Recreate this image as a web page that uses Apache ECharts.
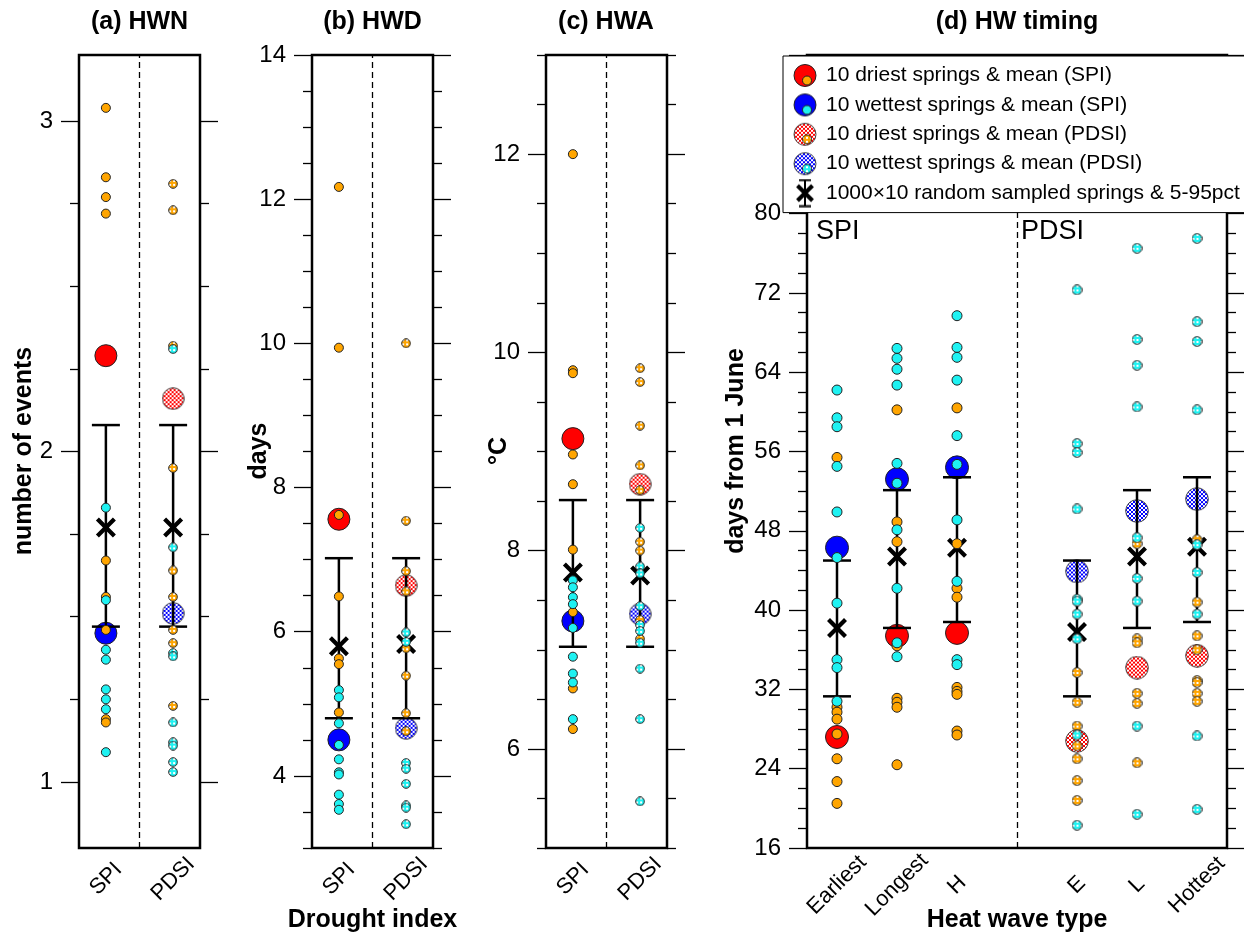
<!DOCTYPE html>
<html>
<head>
<meta charset="utf-8">
<title>Heat wave metrics by drought index</title>
<script src="https://cdn.jsdelivr.net/npm/echarts@6/dist/echarts.min.js"></script>
<style>
html, body { margin: 0; padding: 0; background: #fff; }
#chart { width: 1244px; height: 935px; }
</style>
</head>
<body>
<div id="chart"></div>
<script>
// values
const indexNames = ['SPI', 'PDSI'];
const typeNames = ['Earliest', 'Longest', 'H', 'E', 'L', 'Hottest'];
const typeX = [0.5, 1.5, 2.5, 4.5, 5.5, 6.5];

// (a) HWN
const hwnDrySpi = [3.04, 2.83, 2.77, 2.72, 1.67, 1.56, 1.46, 1.19, 1.18];
const hwnWetSpi = [1.83, 1.55, 1.40, 1.37, 1.28, 1.25, 1.22, 1.09];
const hwnDryPdsi = [2.81, 2.73, 2.32, 1.95, 1.64, 1.56, 1.46, 1.42, 1.23];
const hwnWetPdsi = [2.31, 1.71, 1.39, 1.38, 1.18, 1.12, 1.11, 1.06, 1.03];
const hwnDryMean = [2.29, 2.16];
const hwnWetMean = [1.45, 1.51];
const hwnRandMean = [1.77, 1.77];
const hwnRandLo = [1.47, 1.47];
const hwnRandHi = [2.08, 2.08];

// (b) HWD
const hwdDrySpi = [12.17, 9.94, 7.62, 6.49, 5.63, 5.55, 4.88];
const hwdWetSpi = [5.19, 5.09, 4.73, 4.43, 4.23, 4.05, 4.02, 3.74, 3.61, 3.53];
const hwdDryPdsi = [10.0, 7.54, 6.84, 6.56, 5.77, 5.39, 4.87, 4.62];
const hwdWetPdsi = [5.99, 5.86, 4.18, 4.10, 3.89, 3.59, 3.56, 3.33];
const hwdDryMean = [7.56, 6.64];
const hwdWetMean = [4.50, 4.66];
const hwdRandMean = [5.80, 5.83];
const hwdRandLo = [4.80, 4.80];
const hwdRandHi = [7.02, 7.02];

// (c) HWA
const hwaDrySpi = [12.0, 9.82, 9.79, 8.97, 8.67, 8.01, 7.38, 6.61, 6.20];
const hwaWetSpi = [7.70, 7.63, 7.53, 7.46, 7.22, 6.93, 6.76, 6.67, 6.30];
const hwaDryPdsi = [9.84, 9.70, 9.26, 8.86, 8.61, 8.09, 8.00, 7.30, 7.11];
const hwaWetPdsi = [8.23, 7.84, 7.77, 7.44, 7.25, 7.19, 7.07, 6.81, 6.30, 5.47];
const hwaDryMean = [9.13, 8.67];
const hwaWetMean = [7.29, 7.36];
const hwaRandMean = [7.78, 7.75];
const hwaRandLo = [7.03, 7.03];
const hwaRandHi = [8.51, 8.51];

// (d) HW timing, one list per heat wave type
const timingDry = [
  [55.4, 30.2, 29.7, 29.0, 27.5, 25.0, 22.7, 20.5],
  [60.2, 48.9, 46.9, 36.4, 31.1, 30.7, 30.2, 24.4],
  [60.4, 46.7, 42.2, 41.3, 32.2, 31.8, 31.5, 27.8, 27.4],
  [33.7, 30.7, 28.3, 26.3, 25.0, 22.8, 20.8],
  [46.7, 37.1, 36.7, 31.6, 30.6, 24.6],
  [47.1, 40.8, 37.4, 36.0, 32.9, 32.7, 31.6, 30.8]
];
const timingWet = [
  [62.2, 59.4, 58.5, 54.5, 49.9, 45.3, 40.7, 35.0, 34.2, 30.8],
  [66.4, 65.4, 64.3, 62.7, 54.8, 52.8, 48.1, 42.2, 36.7, 35.3],
  [69.7, 66.5, 65.5, 63.2, 57.6, 54.7, 49.1, 42.9, 35.0, 34.5],
  [72.3, 56.8, 55.9, 50.2, 41.1, 40.9, 39.6, 37.1, 27.4, 18.3],
  [76.5, 67.3, 64.7, 60.5, 47.3, 43.2, 40.9, 28.3, 19.4],
  [77.5, 69.1, 67.1, 60.2, 46.6, 43.8, 39.6, 27.3, 19.9]
];
const timingDryMean = [27.2, 37.4, 37.7, 26.8, 34.2, 35.4];
const timingWetMean = [46.3, 53.2, 54.4, 43.9, 50.0, 51.2];
const timingRandMean = [38.2, 45.4, 46.3, 37.8, 45.4, 46.4];
const timingRandLo = [31.3, 38.2, 38.8, 31.3, 38.2, 38.8];
const timingRandHi = [45.0, 52.1, 53.4, 45.0, 52.1, 53.4];

const legendNames = [
  '10 driest springs & mean (SPI)',
  '10 wettest springs & mean (SPI)',
  '10 driest springs & mean (PDSI)',
  '10 wettest springs & mean (PDSI)',
  '1000\u00d710 random sampled springs & 5-95pct'
];

const FONT = '"Liberation Sans", Arial, Helvetica, sans-serif';
const C = { orange: '#FFA500', cyan: '#1EF2F2', red: '#FF0000', blue: '#0000FF', edge: '#222' };
const X_PATH = 'path://M1.5,0L5,3.5L8.5,0L10,1.5L6.5,5L10,8.5L8.5,10L5,6.5L1.5,10L0,8.5L3.5,5L0,1.5Z';

// checkered fill for the PDSI marks (dense = 50% white checkerboard)
function tile(color, dense) {
  const c = document.createElement('canvas');
  c.width = 4; c.height = 4;
  const g = c.getContext('2d');
  g.fillStyle = color; g.fillRect(0, 0, 4, 4);
  g.fillStyle = '#fff';
  if (dense) { g.fillRect(0, 0, 2, 2); g.fillRect(2, 2, 2, 2); }
  else g.fillRect(1, 1, 2, 2);
  return c;
}
function disc(g, x, y, r, fill, edge) {
  g.beginPath(); g.arc(x, y, r, 0, Math.PI * 2);
  g.fillStyle = fill; g.fill();
  g.lineWidth = 1; g.strokeStyle = edge || C.edge; g.stroke();
}
// marker picture: checkered circle with a dark rim
function hatchedSymbol(color, size, dense) {
  const c = document.createElement('canvas');
  c.width = size; c.height = size;
  const g = c.getContext('2d');
  disc(g, size / 2, size / 2, size / 2 - 0.7,
    g.createPattern(tile(color, dense), 'repeat'), dense ? '#444' : C.edge);
  return 'image://' + c.toDataURL();
}

// legend icons
function makeIcon(draw) {
  const c = document.createElement('canvas');
  c.width = 32; c.height = 29;
  draw(c.getContext('2d'));
  return 'image://' + c.toDataURL();
}
function pairIcon(big, small, hatched) {
  return makeIcon(g => {
    const f = (col, dense) => hatched ? g.createPattern(tile(col, dense), 'repeat') : col;
    disc(g, 16, 14.5, 11, f(big, true), hatched ? '#444' : C.edge);
    disc(g, 18, 19.5, 4.5, f(small, false));
  });
}
const legendIcons = [
  pairIcon(C.red, C.orange, false),
  pairIcon(C.blue, C.cyan, false),
  pairIcon(C.red, C.orange, true),
  pairIcon(C.blue, C.cyan, true),
  makeIcon(g => {
    g.strokeStyle = '#000'; g.lineWidth = 2;
    g.beginPath();
    g.moveTo(16, 1); g.lineTo(16, 28);
    g.moveTo(10, 1.5); g.lineTo(22, 1.5);
    g.moveTo(10, 27.5); g.lineTo(22, 27.5);
    g.stroke();
    g.lineWidth = 4; g.lineCap = 'butt';
    g.beginPath();
    g.moveTo(8.5, 7); g.lineTo(23.5, 22);
    g.moveTo(23.5, 7); g.lineTo(8.5, 22);
    g.stroke();
  })
];

// axes
const yCfg = [
  { min: 0.8, max: 3.2, major: [1, 2, 3], step: 0.25 },
  { min: 3, max: 14, major: [4, 6, 8, 10, 12, 14], step: 0.5 },
  { min: 5, max: 13, major: [6, 8, 10, 12], step: 0.5 },
  { min: 16, max: 96, major: [16, 24, 32, 40, 48, 56, 64, 72, 80, 88, 96],
    labels: [16, 24, 32, 40, 48, 56, 64, 72, 80], step: 2 }
];
const gridLeft = [79, 312, 546, 807];
const gridWidth = [121, 121, 121, 420];

const tickLine = { color: '#000', width: 1.3 };

function yAxesFor(gi, cfg) {
  const minor = [];
  for (let k = Math.ceil(cfg.min / cfg.step - 1e-9); k * cfg.step <= cfg.max + 1e-9; k++) {
    const v = +(k * cfg.step).toFixed(4);
    if (!cfg.major.some(m => Math.abs(m - v) < 1e-6)) minor.push(v);
  }
  const base = {
    type: 'value', gridIndex: gi, min: cfg.min, max: cfg.max,
    splitLine: { show: false }, axisLine: { show: false }
  };
  const noLabel = { show: false };
  return [
    Object.assign({}, base, {
      position: 'left',
      axisTick: { show: true, customValues: cfg.major, length: 18, lineStyle: tickLine },
      axisLabel: { show: true, customValues: cfg.labels || cfg.major, margin: 26,
        fontSize: 24, color: '#000', fontFamily: FONT }
    }),
    Object.assign({}, base, {
      position: 'left',
      axisTick: { show: true, customValues: minor, length: 9, lineStyle: tickLine },
      axisLabel: noLabel
    }),
    Object.assign({}, base, {
      position: 'right',
      axisTick: { show: true, customValues: cfg.major, length: 18, lineStyle: tickLine },
      axisLabel: noLabel
    }),
    Object.assign({}, base, {
      position: 'right',
      axisTick: { show: true, customValues: minor, length: 9, lineStyle: tickLine },
      axisLabel: noLabel
    })
  ];
}

const xAxes = [0, 1, 2].map(gi => ({
  type: 'value', gridIndex: gi, min: 0.6, max: 2.4,
  axisLine: { show: false }, axisTick: { show: false }, splitLine: { show: false },
  axisLabel: {
    customValues: [1, 2], formatter: v => indexNames[Math.round(v) - 1],
    rotate: 45, align: 'center', verticalAlign: 'middle', margin: 31,
    fontSize: 22, color: '#000', fontFamily: FONT
  }
}));
xAxes.push({
  type: 'value', gridIndex: 3, min: 0, max: 7,
  axisLine: { show: false }, axisTick: { show: false }, splitLine: { show: false },
  axisLabel: {
    customValues: typeX,
    formatter: v => typeNames[typeX.findIndex(t => Math.abs(t - v) < 1e-6)],
    rotate: 45, align: 'center', verticalAlign: 'middle', margin: 37,
    fontSize: 22, color: '#000', fontFamily: FONT
  }
});

// series helpers
function dots(name, gi, data, color, size, z, hatched) {
  const big = size > 15;
  return {
    type: 'scatter', name, xAxisIndex: gi, yAxisIndex: gi * 4, data,
    symbol: hatched ? hatchedSymbol(color, size + 1, big) : 'circle',
    symbolSize: hatched ? size + 1 : size, z, silent: true,
    itemStyle: { color, borderColor: C.edge, borderWidth: 1, opacity: 1 },
    emphasis: { disabled: true }
  };
}
function errorBar(params, api) {
  const lo = api.coord([api.value(0), api.value(1)]);
  const hi = api.coord([api.value(0), api.value(2)]);
  const w = 14;
  const style = { stroke: '#000', lineWidth: 2.5 };
  return {
    type: 'group',
    children: [
      { type: 'line', shape: { x1: lo[0], y1: lo[1], x2: hi[0], y2: hi[1] }, style },
      { type: 'line', shape: { x1: lo[0] - w, y1: lo[1], x2: lo[0] + w, y2: lo[1] }, style },
      { type: 'line', shape: { x1: hi[0] - w, y1: hi[1], x2: hi[0] + w, y2: hi[1] }, style }
    ]
  };
}
function randSeries(gi, xs, mean, lo, hi, sepX) {
  return [
    {
      type: 'custom', name: '5-95pct', xAxisIndex: gi, yAxisIndex: gi * 4,
      data: xs.map((x, i) => [x, lo[i], hi[i]]), encode: { x: 0, y: [1, 2] },
      renderItem: errorBar, z: 3, silent: true
    },
    {
      type: 'scatter', name: legendNames[4], xAxisIndex: gi, yAxisIndex: gi * 4,
      data: xs.map((x, i) => [x, mean[i]]), symbol: X_PATH, symbolSize: 20, z: 4,
      silent: true, itemStyle: { color: '#000', opacity: 1 }, emphasis: { disabled: true },
      markLine: {
        silent: true, symbol: ['none', 'none'], label: { show: false },
        lineStyle: { color: '#000', type: [6, 4], width: 1.3 },
        data: [{ xAxis: sepX }]
      }
    }
  ];
}
const at = (x, arr) => arr.map(v => [x, v]);

function indexPanel(gi, dry, wet, dryP, wetP, dryMean, wetMean, randMean, randLo, randHi) {
  return [
    dots(legendNames[0], gi, [[1, dryMean[0]]], C.red, 22, 2),
    dots(legendNames[1], gi, [[1, wetMean[0]]], C.blue, 22, 2),
    dots(legendNames[2], gi, [[2, dryMean[1]]], C.red, 22, 2, true),
    dots(legendNames[3], gi, [[2, wetMean[1]]], C.blue, 22, 2, true),
    ...randSeries(gi, [1, 2], randMean, randLo, randHi, 1.5),
    dots('driest SPI', gi, at(1, dry), C.orange, 9, 5),
    dots('wettest SPI', gi, at(1, wet), C.cyan, 9, 6),
    dots('driest PDSI', gi, at(2, dryP), C.orange, 9, 5, true),
    dots('wettest PDSI', gi, at(2, wetP), C.cyan, 9, 6, true)
  ];
}

const spiT = [0, 1, 2], pdsiT = [3, 4, 5];
const meanPts = (idx, arr) => idx.map(i => [typeX[i], arr[i]]);
const allPts = (idx, arrs) => idx.flatMap(i => at(typeX[i], arrs[i]));

const timingSeries = [
  dots(legendNames[0], 3, meanPts(spiT, timingDryMean), C.red, 23, 2),
  dots(legendNames[1], 3, meanPts(spiT, timingWetMean), C.blue, 23, 2),
  dots(legendNames[2], 3, meanPts(pdsiT, timingDryMean), C.red, 23, 2, true),
  dots(legendNames[3], 3, meanPts(pdsiT, timingWetMean), C.blue, 23, 2, true),
  ...randSeries(3, typeX, timingRandMean, timingRandLo, timingRandHi, 3.5),
  dots('driest SPI', 3, allPts(spiT, timingDry), C.orange, 10, 5),
  dots('wettest SPI', 3, allPts(spiT, timingWet), C.cyan, 10, 6),
  dots('driest PDSI', 3, allPts(pdsiT, timingDry), C.orange, 10, 5, true),
  dots('wettest PDSI', 3, allPts(pdsiT, timingWet), C.cyan, 10, 6, true)
];

function txt(text, x, y, font, extra) {
  return Object.assign({
    type: 'text', x, y, silent: true,
    style: { text, font, fill: '#000', textAlign: 'center', textVerticalAlign: 'middle',
      align: 'center', verticalAlign: 'middle' }
  }, extra || {});
}
const BOLD = 'bold 25px ' + FONT;
const up = { rotation: Math.PI / 2 };

const chart = echarts.init(document.getElementById('chart'));
chart.setOption({
  animation: false,
  backgroundColor: '#fff',
  textStyle: { fontFamily: FONT },
  grid: gridLeft.map((l, i) => ({
    left: l, top: 55, width: gridWidth[i], height: 793,
    show: true, borderColor: '#000', borderWidth: 2.5, backgroundColor: 'transparent'
  })),
  xAxis: xAxes,
  yAxis: yCfg.flatMap((cfg, gi) => yAxesFor(gi, cfg)),
  legend: {
    orient: 'vertical', left: 783, top: 56,
    itemWidth: 32, itemHeight: 29, itemGap: 0.4,
    padding: [5, 40, 5, 6],
    backgroundColor: '#fff', borderColor: '#000', borderWidth: 1,
    selectedMode: false, z: 20,
    textStyle: { fontSize: 21, color: '#000', fontFamily: FONT },
    data: legendNames.map((n, i) => ({ name: n, icon: legendIcons[i] }))
  },
  graphic: [
    txt('(a) HWN', 139.5, 22, BOLD),
    txt('(b) HWD', 372.5, 22, BOLD),
    txt('(c) HWA', 606, 22, BOLD),
    txt('(d) HW timing', 1017, 22, BOLD),
    txt('number of events', 24, 451, BOLD, up),
    txt('days', 259, 451, BOLD, up),
    txt('\u00b0C', 499, 451, BOLD, up),
    txt('days from 1 June', 736, 451, BOLD, up),
    txt('Drought index', 372.5, 920, BOLD),
    txt('Heat wave type', 1017, 920, BOLD),
    { type: 'text', x: 816, y: 232, silent: true,
      style: { text: 'SPI', font: '27px ' + FONT, fill: '#000', textAlign: 'left',
        textVerticalAlign: 'middle', align: 'left', verticalAlign: 'middle' } },
    { type: 'text', x: 1021, y: 232, silent: true,
      style: { text: 'PDSI', font: '27px ' + FONT, fill: '#000', textAlign: 'left',
        textVerticalAlign: 'middle', align: 'left', verticalAlign: 'middle' } }
  ],
  series: [
    ...indexPanel(0, hwnDrySpi, hwnWetSpi, hwnDryPdsi, hwnWetPdsi,
      hwnDryMean, hwnWetMean, hwnRandMean, hwnRandLo, hwnRandHi),
    ...indexPanel(1, hwdDrySpi, hwdWetSpi, hwdDryPdsi, hwdWetPdsi,
      hwdDryMean, hwdWetMean, hwdRandMean, hwdRandLo, hwdRandHi),
    ...indexPanel(2, hwaDrySpi, hwaWetSpi, hwaDryPdsi, hwaWetPdsi,
      hwaDryMean, hwaWetMean, hwaRandMean, hwaRandLo, hwaRandHi),
    ...timingSeries
  ]
});
</script>
</body>
</html>
